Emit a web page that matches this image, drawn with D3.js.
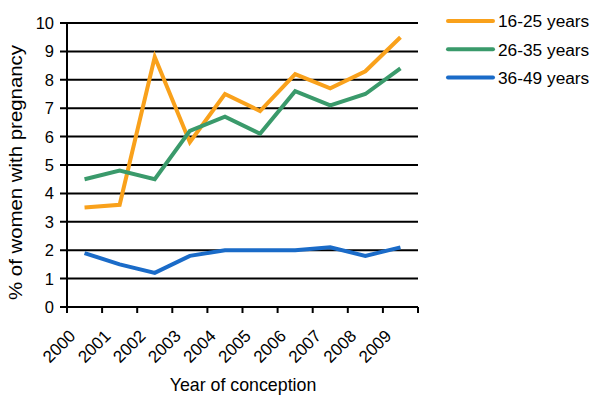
<!DOCTYPE html>
<html><head><meta charset="utf-8">
<script src="https://cdn.jsdelivr.net/npm/d3@7"></script>
<style>body{margin:0;background:#fff}svg{display:block}text{font-family:"Liberation Sans",Arial,sans-serif;fill:#000}</style>
</head><body>
<svg id="c" width="601" height="402"></svg>
<script>
const years = ["2000","2001","2002","2003","2004","2005","2006","2007","2008","2009"];
const yTicks = [0,1,2,3,4,5,6,7,8,9,10];
const seriesNames = ["16-25 years","26-35 years","36-49 years"];
const seriesColors = ["#F9A11B","#3A9A6B","#1A6BC8"];
const age16to25 = [3.5,3.6,8.8,5.8,7.5,6.9,8.2,7.7,8.3,9.5];
const age26to35 = [4.5,4.8,4.5,6.2,6.7,6.1,7.6,7.1,7.5,8.4];
const age36to49 = [1.9,1.5,1.2,1.8,2.0,2.0,2.0,2.1,1.8,2.1];
const seriesValues = [age16to25, age26to35, age36to49];

(function(){
const svg = d3.select("#c");
const mL = 67, mR = 418, mT = 23, mB = 307;
const x = d3.scaleBand().domain(years).range([mL, mR]);
const y = d3.scaleLinear().domain([0,10]).range([mB, mT]);

svg.append("g").selectAll("line").data(yTicks).join("line")
  .attr("x1", mL - 7).attr("x2", mR).attr("y1", d => y(d)).attr("y2", d => y(d))
  .attr("stroke", "#000").attr("stroke-width", 2);
svg.append("g").selectAll("text").data(yTicks).join("text")
  .attr("x", mL - 13).attr("y", d => y(d)).attr("dy", "0.36em")
  .attr("text-anchor", "end").attr("font-size", 16.5).text(d => d);
svg.append("line").attr("x1", mL).attr("x2", mL).attr("y1", mT).attr("y2", mB)
  .attr("stroke", "#000").attr("stroke-width", 2);
const bounds = years.map(d => x(d)).concat([mR]);
svg.append("g").selectAll("line").data(bounds).join("line")
  .attr("x1", d => d).attr("x2", d => d).attr("y1", mB).attr("y2", mB + 6)
  .attr("stroke", "#000").attr("stroke-width", 2);
svg.append("g").selectAll("text").data(years).join("text")
  .attr("transform", d => `translate(${x(d) + x.bandwidth()/2 - 8},337) rotate(-45)`)
  .attr("text-anchor", "end").attr("font-size", 17).text(d => d);

const line = d3.line().x((d,i) => x(years[i]) + x.bandwidth()/2).y(d => y(d));
seriesValues.forEach((vals, k) => {
  svg.append("path").datum(vals).attr("d", line).attr("fill", "none")
    .attr("stroke", seriesColors[k]).attr("stroke-width", 4).attr("stroke-linejoin", "miter");
});

svg.append("text").attr("x", 243).attr("y", 391).attr("text-anchor", "middle")
  .attr("font-size", 17.8).text("Year of conception");
svg.append("text").attr("transform", "translate(22,172.5) rotate(-90)").attr("text-anchor", "middle")
  .attr("font-size", 18).attr("textLength", 255).attr("lengthAdjust", "spacingAndGlyphs")
  .text("% of women with pregnancy");

const lg = svg.append("g").selectAll("g").data(seriesNames).join("g")
  .attr("transform", (d,i) => `translate(448,${21 + i*28.3})`);
lg.append("line").attr("x1", 0).attr("x2", 45).attr("y1", 0).attr("y2", 0)
  .attr("stroke", (d,i) => seriesColors[i]).attr("stroke-width", 4).attr("stroke-linecap", "round");
lg.append("text").attr("x", 50).attr("dy", "0.36em").attr("font-size", 17.3).text(d => d);
})();
</script>
</body></html>
